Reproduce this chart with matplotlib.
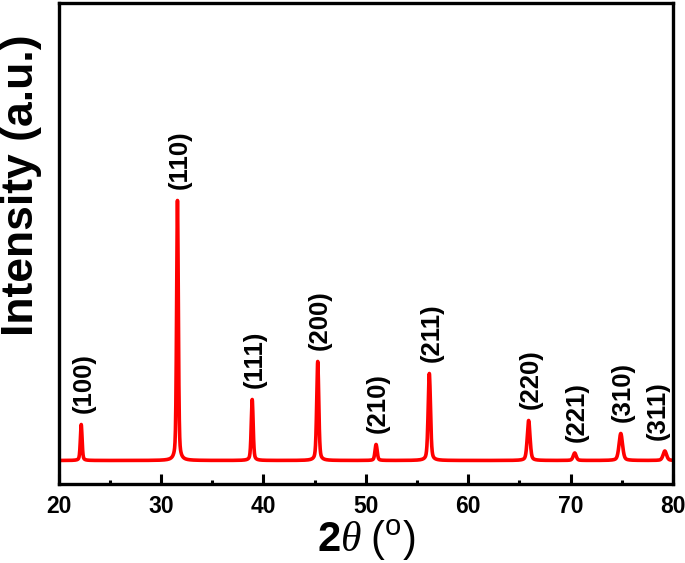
import numpy as np
import matplotlib
matplotlib.use("Agg")
import matplotlib.pyplot as plt
from matplotlib.ticker import MultipleLocator

# ---- data ----
peak_labels = ["(100)", "(110)", "(111)", "(200)", "(210)", "(211)",
               "(220)", "(221)", "(310)", "(311)"]
peak_pos = [22.2, 31.6, 38.9, 45.3, 51.0, 56.2, 65.9, 70.4, 74.9, 79.2]   # 2theta (deg)
peak_height = [360, 2600, 610, 990, 160, 870, 400, 75, 270, 95]          # counts above background
peak_fwhm = [0.20, 0.20, 0.22, 0.24, 0.25, 0.27, 0.32, 0.34, 0.40, 0.40]  # deg
background = 235
x_ticks = [20, 30, 40, 50, 60, 70, 80]

plt.rcParams['mathtext.fontset'] = 'custom'
plt.rcParams['mathtext.bf'] = 'Liberation Sans:bold'
plt.rcParams['mathtext.it'] = 'Liberation Serif:italic'
plt.rcParams['mathtext.rm'] = 'Liberation Sans'
plt.rcParams['font.family'] = ['Liberation Sans', 'DejaVu Sans']

# build the pattern (pseudo-Voigt profiles)
tt = np.linspace(20, 80, 3001)
intensity = np.full_like(tt, background, dtype=float)
for p, h, w in zip(peak_pos, peak_height, peak_fwhm):
    g = np.exp(-4 * np.log(2) * ((tt - p) / w) ** 2)
    l = 1.0 / (1.0 + 4 * ((tt - p) / w) ** 2)
    intensity += h * (0.6 * g + 0.4 * l)

fig = plt.figure(figsize=(6.85, 5.63), dpi=100)
ax = fig.add_axes([58.7 / 685, 1 - 484 / 563, (673 - 58.7) / 685, (484 - 3.3) / 563])

ax.plot(tt, intensity, color='#ff0000', lw=2.6)

ax.set_xlim(20, 80)
ax.set_ylim(0, 4807)
ax.set_yticks([])
ax.xaxis.set_major_locator(MultipleLocator(10))
ax.xaxis.set_minor_locator(MultipleLocator(5))
ax.set_xticks(x_ticks)
ax.tick_params(axis='x', which='major', direction='in', length=7, width=2.2,
               pad=8, labelsize=16.5)
ax.tick_params(axis='x', which='minor', direction='in', length=3, width=2.2)
for lab in ax.get_xticklabels():
    lab.set_fontweight('bold')
for s in ax.spines.values():
    s.set_linewidth(2.4)

for i, (lab, p, h) in enumerate(zip(peak_labels, peak_pos, peak_height)):
    dx = -5 if i == len(peak_labels) - 1 else 1.5
    ax.annotate(lab, xy=(p, background + h), xytext=(dx, 8),
                textcoords='offset points', rotation=90,
                ha='center', va='bottom', fontsize=18.5, fontweight='bold')

ax.set_xlabel(r'$\mathbf{2}\mathit{\theta}\ \mathrm{(^{o})}$', fontsize=30, labelpad=0)
fig.text(22 / 685, 1 - 185 / 563, 'Intensity (a.u.)', rotation=90,
         ha='center', va='center', fontsize=32, fontweight='bold')

fig.savefig('out.png', dpi=100)
